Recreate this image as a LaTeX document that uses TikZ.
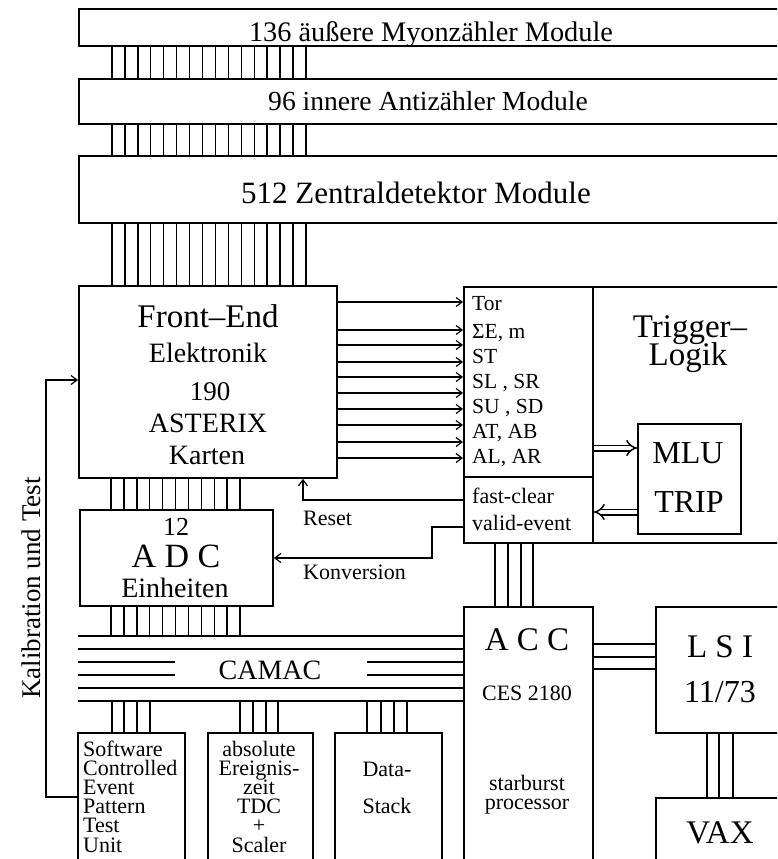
\documentclass[tikz,border=0pt]{standalone}
\usepackage{fontspec}
\setmainfont{Liberation Serif}
\usetikzlibrary{arrows.meta}
\newcommand\fsz[1]{\fontsize{#1}{#1}\selectfont}
\newcommand\tightL[1]{\vtop{\baselineskip=19.2pt\lineskiplimit=-50pt\halign{##\hfil\cr#1\crcr}}}
\newcommand\tightC[1]{\vtop{\baselineskip=19.2pt\lineskiplimit=-50pt\halign{\hfil##\hfil\cr#1\crcr}}}
\begin{document}
\begin{tikzpicture}[x=1pt,y=-1pt,
  box/.style={draw, line width=1.9pt, inner sep=0pt, anchor=north west},
  wire/.style={line width=1.4pt},
  sig/.style={line width=1.2pt, -{Straight Barb[length=6pt,width=9pt,line width=1.2pt]}},
  dbl/.style={double, double distance=4pt, line width=1.5pt, -{Implies}},
  txt/.style={anchor=base, inner sep=0pt},
]
\useasboundingbox (0,0) rectangle (777,859);
\clip (0,0) rectangle (777,859);
% top bars
\node[box, minimum width=740pt, minimum height=37pt] (bar1) at (78,8) {};
\node[box, minimum width=740pt, minimum height=45pt] (bar2) at (78,78) {};
\node[box, minimum width=740pt, minimum height=67pt] (bar3) at (78,155) {};
\node[txt, font=\fsz{28.3}] (t1) at (431,42) {136 äußere Myonzähler Module};
\node[txt, font=\fsz{27.6}] (t2) at (428,110) {96 innere Antizähler Module};
\node[txt, font=\fsz{31}] (t3) at (416,203) {512 Zentraldetektor Module};
% front-end
\node[box, minimum width=258pt, minimum height=192pt] (fe) at (78,285) {};
\node[txt, font=\fsz{33}] (fe1) at (208,327) {Front–End};
\node[txt, font=\fsz{28}] (fe2) at (208,362) {Elektronik};
\node[txt, font=\fsz{27}] (fe3) at (210,400) {190};
\node[txt, font=\fsz{28}] (fe4) at (208,432) {ASTERIX};
\node[txt, font=\fsz{28}] (fe5) at (207,464) {Karten};
% connectors between bars and front-end
\foreach \i in {0,...,15}{
  \pgfmathsetmacro\xx{112+12.93*\i}
  \draw[wire] (\xx,0 |- bar1.south) -- (\xx,0 |- bar2.north);
  \draw[wire] (\xx,0 |- bar2.south) -- (\xx,0 |- bar3.north);
  \draw[wire] (\xx,0 |- bar3.south) -- (\xx,0 |- fe.north);
}
% trigger logic
\node[box, minimum width=340pt, minimum height=256pt] (trig) at (463,286) {};
\draw[line width=1.6pt] (593,0 |- trig.north) -- (593,0 |- trig.south);
\draw[line width=1.6pt] (trig.west |- 0,477) -- (593,477);
\node[txt, anchor=base west, font=\fsz{21.5}] (l1) at (472,310) {Tor};
\node[txt, anchor=base west, font=\fsz{21.5}] (l2) at (472,338) {ΣE, m};
\node[txt, anchor=base west, font=\fsz{21.5}] (l3) at (472,363) {ST};
\node[txt, anchor=base west, font=\fsz{21.5}] (l4) at (472,388) {SL , SR};
\node[txt, anchor=base west, font=\fsz{21.5}] (l5) at (472,413) {SU , SD};
\node[txt, anchor=base west, font=\fsz{21.5}] (l6) at (472,438) {AT, AB};
\node[txt, anchor=base west, font=\fsz{21.5}] (l7) at (472,463) {AL, AR};
\node[txt, anchor=base west, font=\fsz{22}] (fc) at (472,503) {fast-clear};
\node[txt, anchor=base west, font=\fsz{22}] (ve) at (472,530) {valid-event};
\node[txt, font=\fsz{33}] (tl1) at (690,337) {Trigger–};
\node[txt, font=\fsz{33}] (tl2) at (688,365) {Logik};
\foreach \y in {302,330,345,362,377,393,409,425,442,458}
  \draw[sig] (fe.east |- 0,\y) -- (trig.west |- 0,\y);
% MLU / TRIP
\node[box, minimum width=103pt, minimum height=110pt] (mlu) at (637,423) {};
\node[txt, font=\fsz{32}] (mlu1) at (688,463) {MLU};
\node[txt, font=\fsz{32}] (mlu2) at (689,512) {TRIP};
\draw[dbl] (594,448) -- (mlu.west |- 0,448);
\draw[dbl] (mlu.west |- 0,512) -- (594,512);
% ADC
\node[box, minimum width=193pt, minimum height=96pt] (adc) at (79,509) {};
\node[txt, font=\fsz{26}] (adc1) at (176,535) {12};
\node[txt, font=\fsz{34}] (adc2) at (176,567) {A D C};
\node[txt, font=\fsz{28}] (adc3) at (175,597) {Einheiten};
\foreach \i in {0,...,10}{
  \pgfmathsetmacro\xx{111+12.9*\i}
  \draw[wire] (\xx,0 |- fe.south) -- (\xx,0 |- adc.north);
  \draw[wire] (\xx,0 |- adc.south) -- (\xx,636);
}
% Reset / Konversion
\draw[sig] (trig.west |- 0,500) -- (303,500) -- (303,0 |- fe.south);
\node[txt, anchor=base west, font=\fsz{22}] (rs) at (303,525) {Reset};
\draw[sig] (trig.west |- 0,527) -- (432,527) -- (432,558) -- (adc.east |- 0,558);
\node[txt, anchor=base west, font=\fsz{22}] (kv) at (303,579) {Konversion};
% ACC
\node[box, minimum width=129pt, minimum height=300pt] (acc) at (463,606) {};
\node[txt, font=\fsz{33}] (acc1) at (527,650) {A C C};
\node[txt, font=\fsz{22}] (acc2) at (527,700) {CES 2180};
\node[txt, font=\fsz{22}] (acc3) at (527,790) {\tightC{starburst\cr processor}};
\foreach \xx in {495,508,521,533}
  \draw[wire] (\xx,0 |- trig.south) -- (\xx,0 |- acc.north);
% LSI / VAX
\node[box, minimum width=200pt, minimum height=126pt] (lsi) at (655,606) {};
\node[txt, font=\fsz{33}] (lsi1) at (720,657) {L S I};
\node[txt, font=\fsz{32}] (lsi2) at (720,702) {11/73};
\node[box, minimum width=200pt, minimum height=200pt] (vax) at (655,797) {};
\node[txt, font=\fsz{33}] (vax1) at (720,843) {VAX};
\foreach \y in {644,657,669}
  \draw[wire] (acc.east |- 0,\y) -- (lsi.west |- 0,\y);
\foreach \xx in {707,719,733}
  \draw[wire] (\xx,0 |- lsi.south) -- (\xx,0 |- vax.north);
% CAMAC bus
\coordinate (busL) at (78,0);
\coordinate (gapL) at (175,0);
\coordinate (gapR) at (367,0);
\foreach \y in {636,649,688,701}
  \draw[wire] (busL |- 0,\y) -- (acc.west |- 0,\y);
\foreach \y in {662,675}{
  \draw[wire] (busL |- 0,\y) -- (gapL |- 0,\y);
  \draw[wire] (gapR |- 0,\y) -- (acc.west |- 0,\y);
}
\node[txt, font=\fsz{28}] (camac) at (270,679) {CAMAC};
% bottom boxes
\node[box, minimum width=107pt, minimum height=200pt] (sw) at (77,732) {};
\node[box, minimum width=105pt, minimum height=200pt] (tdc) at (207,732) {};
\node[box, minimum width=107pt, minimum height=200pt] (ds) at (334,732) {};
\foreach \xx in {112,124,137,150,240,253,266,278,367,381,394,407}
  \draw[wire] (\xx,701) -- (\xx,0 |- sw.north);
\node[txt, anchor=base west, font=\fsz{22}] (swt) at (83,756)
  {\tightL{Software\cr Controlled\cr Event\cr Pattern\cr Test\cr Unit}};
\node[txt, font=\fsz{22}] (tdt) at (259,756)
  {\tightC{absolute\cr Ereignis-\cr zeit\cr TDC\cr +\cr Scaler}};
\node[txt, font=\fsz{22}] (ds1) at (387,776) {Data-};
\node[txt, font=\fsz{22}] (ds2) at (387,813) {Stack};
% calibration loop
\draw[sig] (sw.west |- 0,797) -- (46,797) -- (46,380) -- (fe.west |- 0,380);
\node[rotate=90, font=\fsz{27}, inner sep=0pt] (kal) at (31,588) {Kalibration und Test};
\end{tikzpicture}
\end{document}
